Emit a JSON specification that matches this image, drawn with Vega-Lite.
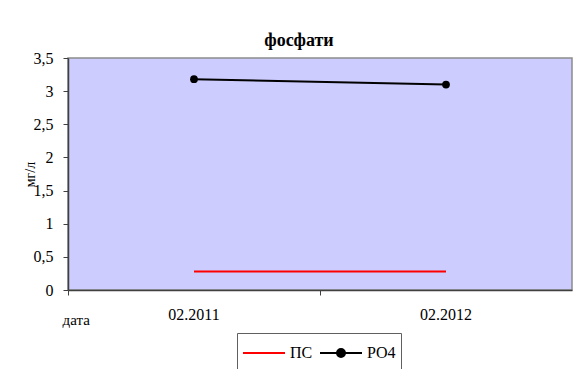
{
  "$schema": "https://vega.github.io/schema/vega-lite/v6.json",
  "width": 504,
  "height": 232,
  "autosize": {"type": "none"},
  "padding": {"left": 68, "top": 58, "right": 6, "bottom": 79},
  "background": "white",
  "config": {
    "view": {"fill": "#CCCCFF", "stroke": "#8c8c8c", "strokeWidth": 1.5},
    "font": "Liberation Serif",
    "axis": {"labelFont": "Liberation Serif", "titleFont": "Liberation Serif"},
    "legend": {"labelFont": "Liberation Serif"}
  },
  "title": {
    "text": "фосфати",
    "font": "Liberation Serif",
    "fontSize": 18,
    "fontWeight": "bold",
    "color": "black",
    "anchor": "middle",
    "frame": "group",
    "baseline": "alphabetic",
    "dx": -21,
    "dy": 30,
    "offset": 16
  },
  "data": {
    "values": [
      {"date": "02.2011", "series": "ПС", "value": 0.28},
      {"date": "02.2012", "series": "ПС", "value": 0.28},
      {"date": "02.2011", "series": "PO4", "value": 3.18},
      {"date": "02.2012", "series": "PO4", "value": 3.1}
    ]
  },
  "encoding": {
    "x": {
      "field": "date",
      "type": "ordinal",
      "scale": {"type": "band", "paddingInner": 0, "paddingOuter": 0},
      "bandPosition": 0.5,
      "axis": {
        "title": "дата",
        "bandPosition": 0,
        "labelDx": 126,
        "labelAngle": 0,
        "tickSize": 5,
        "labelPadding": 11,
        "labelFont": "Liberation Serif",
        "labelFontSize": 16,
        "labelColor": "black",
        "domainColor": "#404040",
        "domainWidth": 1.5,
        "tickColor": "#404040",
        "grid": false,
        "titleFont": "Liberation Serif",
        "titleFontSize": 15,
        "titleFontWeight": "normal",
        "titleColor": "black",
        "titleX": -6,
        "titleY": 34,
        "titleAlign": "left",
        "titleBaseline": "alphabetic"
      }
    },
    "y": {
      "field": "value",
      "type": "quantitative",
      "scale": {"domain": [0, 3.5]},
      "axis": {
        "title": "мг/л",
        "values": [0, 0.5, 1, 1.5, 2, 2.5, 3, 3.5],
        "labelExpr": "replace(format(datum.value, '~g'), '.', ',')",
        "grid": false,
        "tickSize": 5,
        "labelPadding": 10,
        "labelFont": "Liberation Serif",
        "labelFontSize": 16,
        "labelColor": "black",
        "domainColor": "#404040",
        "domainWidth": 1.5,
        "tickColor": "#404040",
        "titleFont": "Liberation Serif",
        "titleFontSize": 14,
        "titleFontWeight": "normal",
        "titleColor": "black",
        "titleAngle": -90,
        "titleX": -38,
        "titleY": 116,
        "titleAlign": "center",
        "titleBaseline": "middle"
      }
    },
    "color": {
      "field": "series",
      "type": "nominal",
      "scale": {"domain": ["ПС", "PO4"], "range": ["#ff0000", "#000000"]},
      "legend": {
        "orient": "none",
        "legendX": 169,
        "legendY": 275,
        "direction": "horizontal",
        "title": null,
        "labelFont": "Liberation Serif",
        "labelFontSize": 16,
        "labelColor": "black",
        "strokeColor": "#606060",
        "fillColor": "white",
        "padding": 5,
        "columnPadding": 6,
        "labelOffset": 4,
        "symbolSize": 1764,
        "clipHeight": 30,
        "encode": {
          "symbols": {
            "update": {
              "shape": {"signal": "datum.value === 'PO4' ? 'M-1,0H1M-0.19,0A0.19,0.19,0,1,1,0.19,0A0.19,0.19,0,1,1,-0.19,0Z' : 'M-1,0H1'"},
              "fill": {"signal": "datum.value === 'PO4' ? 'black' : 'transparent'"},
              "stroke": {"signal": "datum.value === 'PO4' ? 'black' : 'red'"},
              "strokeWidth": {"value": 2},
              "size": {"value": 1764},
              "opacity": {"value": 1}
            }
          }
        }
      }
    }
  },
  "layer": [
    {"mark": {"type": "line", "strokeWidth": 2}},
    {
      "transform": [{"filter": "datum.series === 'PO4'"}],
      "mark": {"type": "point", "filled": true, "size": 60, "opacity": 1}
    }
  ]
}
